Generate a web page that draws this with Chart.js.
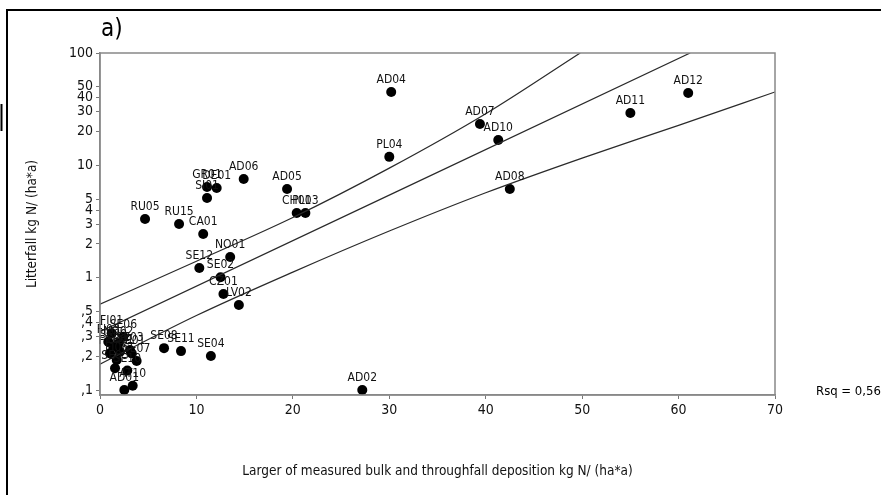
<!DOCTYPE html>
<html><head><meta charset="utf-8">
<script src="https://cdn.jsdelivr.net/npm/chart.js@4.4.0/dist/chart.umd.min.js"></script>
<style>html,body{margin:0;padding:0;background:#fff;}canvas{display:block}</style>
</head><body>
<canvas id="c" width="881" height="495"></canvas>
<script>
// ---- data ----
const siteLabels = ['AD04','AD07','AD10','AD12','AD11','PL04','AD08','AD06','AD05','CH01','PL03',
  'GR01','DE01','SI01','RU05','RU15','CA01','NO01','SE12','SE02','CZ01','LV02','SE08','SE11','SE04','AD02',
  'FI03','SE09','NO02','FI04','EE01','SE03','SE01','SE07','SE05','SE10','AT10','AD01','FI06','SE06','FI01'];
const depositionX = [30.2,39.4,41.3,61.0,55.0,30.0,42.5,14.9,19.4,20.4,21.3,
  11.1,12.1,11.1,4.67,8.2,10.7,13.5,10.3,12.5,12.8,14.4,6.64,8.4,11.5,27.2,
  0.86,1.38,1.9,1.04,2.07,3.11,3.29,3.8,1.56,2.83,3.39,2.52,1.73,2.42,1.21];
const litterfallY = [45.0,23.3,16.8,44.1,29.2,11.9,6.16,7.56,6.16,3.76,3.76,
  6.41,6.29,5.12,3.33,3.0,2.45,1.53,1.22,1.01,0.716,0.571,0.236,0.222,0.201,0.1,
  0.269,0.243,0.26,0.212,0.219,0.227,0.212,0.181,0.156,0.149,0.109,0.1,0.185,0.298,0.32];

const fitX = [0, 61.2];
const fitY = [0.33, 100];
const upperX = [0, 10, 20, 30, 40, 49.8];
const upperY = [0.58, 1.40, 3.43, 9.44, 28.8, 100];
const lowerX = [0, 10, 20, 30, 40, 50, 60, 70];
const lowerY = [0.17, 0.46, 1.12, 2.6, 5.7, 11.6, 22.7, 45];

const xTickValues = [0, 10, 20, 30, 40, 50, 60, 70];
const yTickValues = [0.1, 0.2, 0.3, 0.4, 0.5, 1, 2, 3, 4, 5, 10, 20, 30, 40, 50, 100];
const yTickLabels = [',1', ',2', ',3', ',4', ',5', '1', '2', '3', '4', '5', '10', '20', '30', '40', '50', '100'];

const panelLabel = 'a)';
const rsqText = 'Rsq = 0,566';
const yTitle = 'Litterfall kg N/ (ha*a)';
const xTitle = 'Larger of measured bulk and throughfall deposition kg N/ (ha*a)';

// ---- build ----
const FONT = "'Liberation Sans Narrow', 'DejaVu Sans Condensed', sans-serif";
const pairs = (xs, ys) => xs.map((x, i) => ({x, y: ys[i]}));
const lineStyle = {showLine: true, pointRadius: 0, borderColor: '#2a2a2a', borderWidth: 1.2, fill: false, tension: 0.35, cubicInterpolationMode: 'monotone'};

const labelPlugin = {
  id: 'pointLabels',
  afterDatasetsDraw(chart) {
    const ctx = chart.ctx;
    const meta = chart.getDatasetMeta(3);
    ctx.save();
    ctx.font = '12px ' + FONT;
    ctx.fillStyle = '#111';
    ctx.textAlign = 'center';
    ctx.textBaseline = 'bottom';
    meta.data.forEach((el, i) => {
      ctx.fillText(siteLabels[i], el.x, el.y - 6);
    });
    ctx.restore();
  }
};

const framePlugin = {
  id: 'frame',
  afterDraw(chart) {
    const {ctx, chartArea: a} = chart;
    ctx.save();
    ctx.strokeStyle = '#888';
    ctx.lineWidth = 1.5;
    ctx.strokeRect(a.left, a.top, a.right - a.left, a.bottom - a.top);
    // figure border
    ctx.strokeStyle = '#000';
    ctx.lineWidth = 2;
    ctx.beginPath();
    ctx.moveTo(7, 495); ctx.lineTo(7, 10); ctx.lineTo(881, 10);
    ctx.stroke();
    ctx.beginPath();
    ctx.moveTo(1.5, 104); ctx.lineTo(1.5, 131);
    ctx.stroke();
    ctx.fillStyle = '#000';
    ctx.font = '24px ' + FONT;
    ctx.textAlign = 'left';
    ctx.textBaseline = 'alphabetic';
    ctx.fillText(panelLabel, 101, 36);
    ctx.font = '13px ' + FONT;
    ctx.textBaseline = 'middle';
    ctx.fillText(rsqText, 816, 392);
    ctx.restore();
  }
};

new Chart(document.getElementById('c'), {
  type: 'scatter',
  data: {
    datasets: [
      Object.assign({data: pairs(upperX, upperY)}, lineStyle),
      Object.assign({data: pairs(fitX, fitY)}, lineStyle, {tension: 0}),
      Object.assign({data: pairs(lowerX, lowerY)}, lineStyle),
      {data: pairs(depositionX, litterfallY), pointRadius: 5, pointHoverRadius: 5,
       backgroundColor: '#000', borderColor: '#000', borderWidth: 0, clip: false}
    ]
  },
  options: {
    responsive: false,
    animation: false,
    devicePixelRatio: 1,
    layout: {padding: {left: 0, right: 106, top: 53, bottom: 0}},
    plugins: {legend: {display: false}, tooltip: {enabled: false}},
    scales: {
      x: {
        type: 'linear', min: 0, max: 70,
        afterBuildTicks: s => { s.ticks = xTickValues.map(v => ({value: v})); },
        afterFit: s => { s.height = 100; },
        grid: {drawOnChartArea: false, drawTicks: true, tickLength: 4, color: '#777'},
        border: {display: true, color: '#888', width: 1.5},
        ticks: {color: '#111', font: {family: FONT, size: 14}, padding: 3, autoSkip: false, maxRotation: 0},
        title: {display: true, text: xTitle, color: '#111', font: {family: FONT, size: 13.5}, padding: {top: 0, bottom: 15}}
      },
      y: {
        type: 'logarithmic', min: 0.0903, max: 100,
        afterBuildTicks: s => { s.ticks = yTickValues.map(v => ({value: v})); },
        afterFit: s => { s.width = 100; },
        grid: {drawOnChartArea: false, drawTicks: true, tickLength: 4, color: '#777'},
        border: {display: true, color: '#888', width: 1.5},
        ticks: {color: '#111', font: {family: FONT, size: 14}, padding: 3, autoSkip: false,
                callback: (v, i) => yTickLabels[i]},
        title: {display: true, text: yTitle, color: '#111', font: {family: FONT, size: 13.5}, padding: {top: 24, bottom: 0}}
      }
    }
  },
  plugins: [labelPlugin, framePlugin]
});
</script>
</body></html>
